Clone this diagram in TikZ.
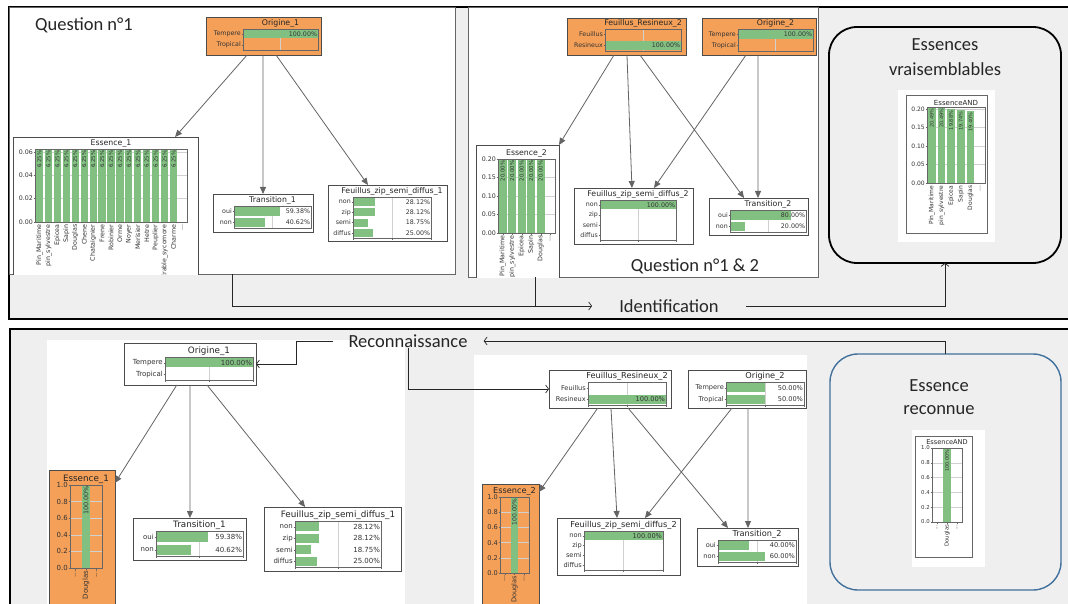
\documentclass[tikz,border=0pt]{standalone}
\usepackage{fontspec}
\setmainfont{Carlito}
\newfontfamily\plotfont{DejaVu Sans}
\usetikzlibrary{arrows.meta,calc}
\definecolor{bg}{HTML}{EFEFEF}
\definecolor{orng}{RGB}{245,160,88}
\definecolor{grn}{RGB}{130,192,130}
\definecolor{blu}{HTML}{41719C}
\definecolor{edgec}{RGB}{100,100,100}
\newcommand\TS{7.8}
\newcommand\KS{6}
\newcommand\VS{5.5}
\newcommand\TO{0.5}
\newcommand\ddd{.\kern0pt.\kern0pt.}
\newcommand\setsz[3]{\renewcommand\TS{#1}\renewcommand\KS{#2}\renewcommand\VS{#3}}
\tikzset{
 x=1pt, y=-1pt,
 bnbox/.style={draw=black!70, line width=0.9pt, inner sep=0pt, outer sep=0pt},
 panel/.style={draw=black!60, line width=0.7pt, fill=white, inner sep=0pt, outer sep=0pt},
 titlelab/.style={font=\plotfont\fontsize{\TS}{\TS}\selectfont, text=black!85, inner sep=0.5pt},
 ticklab/.style={font=\plotfont\fontsize{\KS}{\KS}\selectfont, text=black!80, inner sep=0.5pt},
 vallab/.style={font=\plotfont\fontsize{\VS}{\VS}\selectfont, text=black!80, inner sep=0.3pt},
 gridc/.style={draw=black!18, line width=0.4pt},
 axisc/.style={draw=black!60, line width=0.45pt},
 barc/.style={fill=grn},
 bnedge/.style={draw=edgec, line width=0.8pt, -{Triangle[length=7pt,width=6pt]}},
 flow/.style={draw=black!85, line width=0.7pt},
 flowarr/.style={flow, -{Straight Barb[length=3pt,width=8pt]}},
 big/.style={font=\fontsize{18.5}{24}\selectfont, text=black!85, inner sep=0pt},
}
\newcommand\PlaceBox[6]{\node[#6, minimum width={(#4-#2)*1pt}, minimum height={(#5-#3)*1pt}] (#1) at ({(#2+#4)/2},{(#3+#5)/2}) {};}
\newcommand\HBars[7]{%
 \pgfmathsetmacro\rh{(#4-#2)/#6}%
 \draw[gridc] ({(#1+#3)/2},#2) -- ({(#1+#3)/2},#4);
 \foreach \bl/\bv/\bt [count=\ri] in {#7}{%
  \pgfmathsetmacro\ry{#2+(\ri-0.5)*\rh}%
  \fill[barc] (#1,\ry-0.4*\rh) rectangle ({#1+\bv*(#3-#1)},\ry+0.4*\rh);
  \draw[axisc] (#1-1.5,\ry) -- (#1,\ry);
  \node[ticklab, anchor=east] at (#1-1.5,\ry) {\bl};
  \node[ticklab, anchor=east] at (#3-0.3,\ry) {\bt};
 }%
 \foreach \tk in {0,0.5,1}{\draw[axisc] ({#1+\tk*(#3-#1)},#4) -- ({#1+\tk*(#3-#1)},#4+1.5);}
 \draw[axisc] (#1,#2) rectangle (#3,#4);
 \node[titlelab, anchor=south] at ({(#1+#3)/2},#2-0.5) {#5};
}
\newcommand\VBars[9]{%
 \pgfmathsetmacro\vbw{(#3-#1)/#7}%
 \foreach \tv/\tl in {#6}{%
  \pgfmathsetmacro\ty{#4-(\tv/#5)*(#4-#2)}%
  \draw[gridc] (#1,\ty) -- (#3,\ty);
  \draw[axisc] (#1-1.5,\ty) -- (#1,\ty);
  \node[ticklab, anchor=east] at (#1-1.5,\ty) {\tl};
 }%
 \foreach \sl/\bv/\bt/\bl in {#8}{%
  \pgfmathsetmacro\bx{#1+(\sl-0.5)*\vbw}%
  \pgfmathsetmacro\by{#4-(\bv/#5)*(#4-#2)}%
  \fill[barc] (\bx-0.4*\vbw,#4) rectangle (\bx+0.4*\vbw,\by);
  \node[vallab, rotate=90, anchor=east] at (\bx,\by+1) {\bt};
  \draw[axisc] (\bx,#4) -- (\bx,#4+1.5);
  \node[ticklab, rotate=90, anchor=east] at (\bx,#4+2) {\bl};
 }%
 \draw[axisc] (#1,#2) rectangle (#3,#4);
 \node[titlelab, anchor=south] at ({(#1+#3)/2},#2-\TO) {#9};
}
\newcommand\Edge[4]{\draw[bnedge] ($(#1.south west)!#2!(#1.south east)$) -- ($(#3.north west)!#4!(#3.north east)$);}
\begin{document}
\begin{tikzpicture}
\useasboundingbox (0,0) rectangle (1068,604);
\clip (0,0) rectangle (1068,604);
% frames
\path[fill=bg, draw=black, line width=1.4pt] (9,7) rectangle (1090,319);
\path[fill=bg, draw=black, line width=1.4pt] (10,329) rectangle (1090,625);
% panels
\PlaceBox{p1}{9}{7}{455}{274}{panel}
\PlaceBox{p2}{468}{7}{818}{277}{panel}
\PlaceBox{ev}{829}{27}{1061}{263}{draw=black, line width=1.8pt, rounded corners=28pt, fill=bg, inner sep=0pt, outer sep=0pt}
\PlaceBox{er}{830}{354}{1061}{590}{draw=blu, line width=1.4pt, rounded corners=28pt, fill=bg, inner sep=0pt, outer sep=0pt}
\fill[white] (898,90) rectangle (995,242);
\fill[white] (912,430) rectangle (985,567);
\fill[white] (47,340) rectangle (405,625);
\fill[white] (474,355) rectangle (807,625);
% ---------- top BN 1
\setsz{7.8}{6.3}{5.4}
\PlaceBox{o1t}{206}{17}{321}{55}{bnbox, fill=orng}
\HBars{243}{29}{318}{50}{Origine\_1}{2}{Tempere/1/100.00\%, Tropical/0/{}}
\PlaceBox{t1t}{213}{194}{313}{232}{bnbox, fill=white}
\HBars{234}{206}{311}{228}{Transition\_1}{2}{oui/0.5938/59.38\%, non/0.4062/40.62\%}
\PlaceBox{f1t}{328}{185}{447}{241}{bnbox, fill=white}
\HBars{353}{197}{431}{238}{Feuillus\_zip\_semi\_diffus\_1}{4}{non/0.2812/28.12\%, zip/0.2812/28.12\%, semi/0.1875/18.75\%, diffus/0.25/25.00\%}
\begin{scope}
\clip (9,7) rectangle (455,274);
\PlaceBox{e1t}{13}{137}{198}{300}{bnbox, fill=white}
\VBars{35}{149}{187}{222}{0.0626}{0/0.00, 0.02/0.02, 0.04/0.04, 0.06/0.06}{17}{1/0.0625/6.25\%/Pin\_Maritime, 2/0.0625/6.25\%/pin\_sylvestre, 3/0.0625/6.25\%/Epicea, 4/0.0625/6.25\%/Sapin, 5/0.0625/6.25\%/Douglas, 6/0.0625/6.25\%/Chene, 7/0.0625/6.25\%/Chataignier, 8/0.0625/6.25\%/Frene, 9/0.0625/6.25\%/Robinier, 10/0.0625/6.25\%/Orme, 11/0.0625/6.25\%/Noyer, 12/0.0625/6.25\%/Merisier, 13/0.0625/6.25\%/Hetre, 14/0.0625/6.25\%/Peuplier, 15/0.0625/6.25\%/Erable\_sycomore, 16/0.0625/6.25\%/Charme, 17/0/{}/\ddd}{Essence\_1}
\end{scope}
% ---------- top BN 2
\PlaceBox{fr2t}{567}{18}{686}{55}{bnbox, fill=orng}
\HBars{605}{29}{681}{51}{Feuillus\_Resineux\_2}{2}{Feuillus/0/{}, Resineux/1/100.00\%}
\PlaceBox{o2t}{702}{18}{816}{55}{bnbox, fill=orng}
\HBars{738}{29}{813}{51}{Origine\_2}{2}{Tempere/1/100.00\%, Tropical/0/{}}
\PlaceBox{f2t}{574}{188}{693}{244}{bnbox, fill=white}
\HBars{600}{200}{676}{240}{Feuillus\_zip\_semi\_diffus\_2}{4}{non/1/100.00\%, zip/0/{}, semi/0/{}, diffus/0/{}}
\PlaceBox{t2t}{709}{198}{808}{235}{bnbox, fill=white}
\HBars{730}{210}{806}{232}{Transition\_2}{2}{oui/0.8/80.00\%, non/0.2/20.00\%}
\begin{scope}
\clip (468,7) rectangle (818,277);
\PlaceBox{e2t}{476}{145}{559}{300}{bnbox, fill=white}
\VBars{498}{159}{555}{233}{0.2005}{0/0.00, 0.05/0.05, 0.1/0.10, 0.15/0.15, 0.2/0.20}{6}{1/0.2/20.00\%/Pin\_Maritime, 2/0.2/20.00\%/pin\_sylvestre, 3/0.2/20.00\%/Epicea, 4/0.2/20.00\%/Sapin, 5/0.2/20.00\%/Douglas, 6/0/{}/\ddd}{Essence\_2}
\end{scope}
% ---------- EssenceAND
\setsz{7}{6}{5}
\PlaceBox{eav}{906}{95}{987}{233}{bnbox, fill=white, draw=black!60, line width=0.6pt}
\VBars{927}{107}{985}{183}{0.2054}{0/0.00, 0.05/0.05, 0.1/0.10, 0.15/0.15, 0.2/0.20}{6}{1/0.2049/20.49\%/Pin\_Maritime, 2/0.2049/20.49\%/pin\_sylvestre, 3/0.1988/19.88\%/Epicea, 4/0.1974/19.74\%/Sapin, 5/0.1940/19.40\%/Douglas, 6/0/{}/\ddd}{EssenceAND}
\setsz{6.6}{5.4}{5}
\renewcommand\TO{3}
\PlaceBox{ear}{915}{436}{972}{557}{bnbox, fill=white, draw=black!60, line width=0.6pt}
\VBars{932}{448}{962}{522}{1}{0/0.0, 0.2/0.2, 0.4/0.4, 0.6/0.6, 0.8/0.8, 1/1.0}{3}{1/0/{}/\ddd, 2/1/100.00\%/Douglas, 3/0/{}/\ddd}{EssenceAND}
\renewcommand\TO{0.5}
% ---------- bottom BN 1
\setsz{8.8}{7}{6.4}
\PlaceBox{o1b}{124}{343}{256}{385}{bnbox, fill=white}
\HBars{165}{357}{253}{380}{Origine\_1}{2}{Tempere/1/100.00\%, Tropical/0/{}}
\PlaceBox{t1b}{133}{518}{246}{560}{bnbox, fill=white}
\HBars{156}{531}{243}{556}{Transition\_1}{2}{oui/0.5938/59.38\%, non/0.4062/40.62\%}
\PlaceBox{f1b}{264}{507}{401}{571}{bnbox, fill=white}
\HBars{295}{521}{381}{567}{Feuillus\_zip\_semi\_diffus\_1}{4}{non/0.2812/28.12\%, zip/0.2812/28.12\%, semi/0.1875/18.75\%, diffus/0.25/25.00\%}
\PlaceBox{e1b}{49}{470}{115}{625}{bnbox, fill=orng}
\VBars{70}{485}{102}{568}{1}{0/0.0, 0.2/0.2, 0.4/0.4, 0.6/0.6, 0.8/0.8, 1/1.0}{3}{1/0/{}/\ddd, 2/1/100.00\%/Douglas, 3/0/{}/\ddd}{Essence\_1}
% ---------- bottom BN 2
\setsz{8.2}{6.6}{6}
\PlaceBox{fr2b}{549}{370}{671}{408}{bnbox, fill=white}
\HBars{588}{382}{666}{405}{Feuillus\_Resineux\_2}{2}{Feuillus/0/{}, Resineux/1/100.00\%}
\PlaceBox{o2b}{688}{370}{806}{408}{bnbox, fill=white}
\HBars{726}{382}{804}{405}{Origine\_2}{2}{Tempere/0.5/50.00\%, Tropical/0.5/50.00\%}
\PlaceBox{f2b}{557}{518}{680}{575}{bnbox, fill=white}
\HBars{584}{531}{663}{570}{Feuillus\_zip\_semi\_diffus\_2}{4}{non/1/100.00\%, zip/0/{}, semi/0/{}, diffus/0/{}}
\PlaceBox{t2b}{697}{528}{798}{566}{bnbox, fill=white}
\HBars{718}{540}{796}{562}{Transition\_2}{2}{oui/0.4/40.00\%, non/0.6/60.00\%}
\PlaceBox{e2b}{482}{484}{539}{625}{bnbox, fill=orng}
\VBars{500}{497}{529}{573}{1}{0/0.0, 0.2/0.2, 0.4/0.4, 0.6/0.6, 0.8/0.8, 1/1.0}{3}{1/0/{}/\ddd, 2/1/100.00\%/Douglas, 3/0/{}/\ddd}{Essence\_2}
% ---------- BN edges
\Edge{o1t}{0.357}{e1t}{0.876}
\Edge{o1t}{0.496}{t1t}{0.5}
\Edge{o1t}{0.609}{f1t}{0.336}
\Edge{fr2t}{0.395}{e2t}{1}
\Edge{fr2t}{0.504}{f2t}{0.487}
\Edge{fr2t}{0.613}{t2t}{0.354}
\Edge{o2t}{0.386}{f2t}{0.672}
\Edge{o2t}{0.491}{t2t}{0.495}
\draw[bnedge] ($(o1b.south west)!0.40!(o1b.south east)$) -- ([yshift=-13pt]e1b.north east);
\Edge{o1b}{0.5}{t1b}{0.504}
\Edge{o1b}{0.629}{f1b}{0.3}
\draw[bnedge] ($(fr2b.south west)!0.40!(fr2b.south east)$) -- ([yshift=-8pt]e2b.north east);
\Edge{fr2b}{0.508}{f2b}{0.488}
\Edge{fr2b}{0.648}{t2b}{0.307}
\Edge{o2b}{0.373}{f2b}{0.715}
\Edge{o2b}{0.508}{t2b}{0.505}
% ---------- labels
\node[big] (qt1) at (84,25) {Question n°1};
\node[big] (qt2) at (695,266) {Question n°1 \& 2};
\node[big] (idl) at (669,306) {Identification};
\node[big, align=center, font=\fontsize{18.5}{25}\selectfont] (evl) at (945,57) {Essences\\vraisemblables};
\node[big] (rec) at (408,341) {Reconnaissance};
\node[big, align=center, font=\fontsize{18.5}{23}\selectfont] (erl) at (939,397) {Essence\\reconnue};
% ---------- flow connectors
\draw[flowarr] (p1.south) |- ([xshift=-27pt]idl.west);
\coordinate (j2) at ($(p2.south west)!0.191!(p2.south east)$);
\draw[flow] (j2) -- (j2 |- idl.west);
\draw[flowarr] ([xshift=27pt]idl.east) -| (ev.south);
\draw[flowarr] (er.north) |- ([xshift=16pt]rec.east);
\coordinate (rb) at ([xshift=-15pt]rec.west);
\draw[flowarr] (rb) -- ++(-37,0) |- (o1b.east);
\draw[flowarr] (rec.south) |- (fr2b.west);
\end{tikzpicture}
\end{document}
